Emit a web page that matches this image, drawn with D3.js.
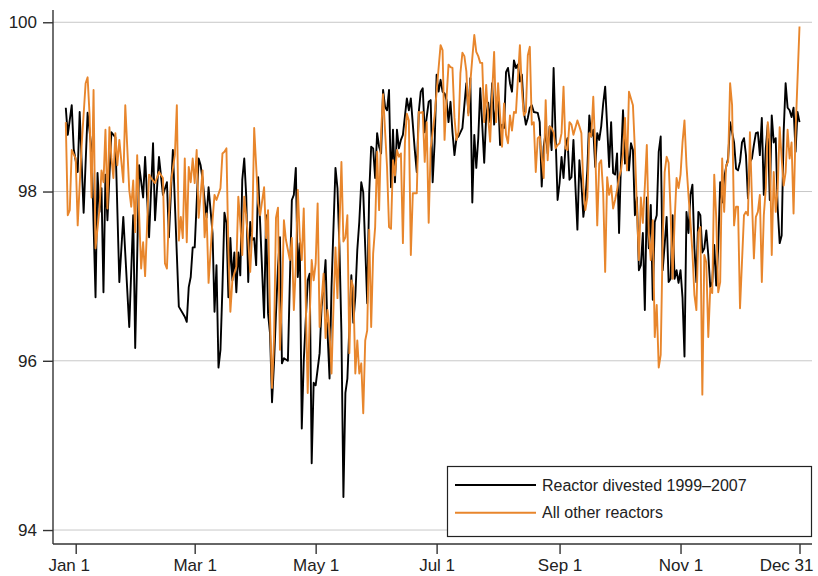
<!DOCTYPE html>
<html>
<head>
<meta charset="utf-8">
<script src="https://cdn.jsdelivr.net/npm/d3@7"></script>
<style>
  html, body { margin: 0; padding: 0; background: #fff; }
  svg { display: block; }
  text { font-family: "Liberation Sans", Arial, Helvetica, sans-serif; fill: #222; }
</style>
</head>
<body>
<svg id="chart" width="818" height="576"></svg>
<script>
// Day of year (0 = Jan 1, leap year) and daily percentage, one pair per observation.
const divested = [[-5,98.99],[-4,98.67],[-2,99.02],[-1,98.50],[1,98.23],[2,98.94],[4,97.75],[6,98.93],[8,98.50],[10,96.75],[11,98.22],[12,97.76],[13,98.04],[14,96.81],[15,98.20],[16,97.66],[18,98.70],[20,98.64],[22,96.93],[24,97.70],[27,96.40],[29,97.72],[30,96.15],[32,98.31],[34,97.93],[35,98.41],[37,97.46],[39,98.57],[40,97.66],[42,98.41],[44,97.96],[46,98.11],[47,97.46],[49,98.49],[52,96.64],[55,96.52],[56,96.46],[57,96.87],[58,96.99],[59,97.34],[60,97.34],[62,98.39],[63,98.31],[64,98.14],[65,97.90],[66,97.69],[67,98.05],[69,97.51],[70,96.58],[71,97.13],[72,95.92],[73,96.13],[74,96.87],[75,97.75],[76,97.63],[77,96.75],[78,97.45],[79,96.95],[80,97.28],[81,96.81],[82,97.28],[83,97.01],[84,98.14],[85,98.39],[86,97.94],[87,96.93],[88,97.64],[89,97.43],[90,97.45],[91,97.13],[92,98.17],[93,97.63],[95,96.51],[96,97.72],[97,96.56],[98,96.32],[99,95.51],[100,95.97],[101,96.56],[102,97.11],[103,97.46],[104,95.97],[105,96.03],[107,96.00],[108,96.95],[109,97.90],[110,97.96],[111,98.28],[112,96.99],[113,97.39],[114,95.20],[115,96.00],[117,96.95],[118,97.03],[119,94.79],[120,95.74],[121,95.71],[123,96.09],[124,96.64],[125,96.87],[126,97.19],[127,96.33],[128,95.79],[129,96.87],[130,97.58],[131,98.28],[132,98.04],[133,97.34],[134,96.33],[135,94.39],[136,95.62],[137,95.79],[139,97.01],[140,96.45],[141,96.76],[142,97.31],[143,97.64],[144,98.11],[145,97.99],[146,97.34],[147,96.68],[148,97.98],[149,98.53],[150,98.51],[151,98.16],[152,98.69],[153,98.53],[154,98.45],[155,99.20],[156,99.00],[157,98.96],[158,99.20],[159,98.05],[160,98.73],[161,98.11],[162,98.73],[163,98.51],[164,98.61],[165,98.67],[167,99.10],[168,98.96],[169,99.10],[171,98.49],[172,98.23],[173,98.94],[174,99.18],[175,99.22],[176,98.70],[178,99.06],[179,99.08],[180,98.11],[181,98.58],[182,99.38],[183,99.18],[184,99.32],[185,99.18],[186,99.16],[187,99.08],[188,98.82],[189,99.06],[190,98.70],[191,98.43],[192,98.63],[193,98.65],[194,98.70],[195,98.75],[196,99.02],[197,99.28],[198,98.93],[199,99.34],[200,97.87],[201,98.67],[202,98.28],[203,98.63],[204,99.22],[205,98.79],[206,98.34],[207,98.90],[208,99.05],[209,98.82],[210,99.28],[211,98.79],[212,98.99],[213,99.14],[214,98.55],[215,98.79],[216,98.75],[217,99.41],[218,99.46],[219,99.28],[220,99.18],[221,99.55],[222,99.46],[223,99.50],[224,99.30],[225,99.38],[226,98.94],[227,98.79],[228,98.87],[229,98.99],[230,99.02],[231,98.94],[233,98.93],[234,98.82],[235,98.06],[236,98.53],[237,98.70],[238,98.45],[239,98.77],[240,98.49],[241,99.46],[242,98.65],[243,97.90],[244,98.10],[245,98.41],[246,98.16],[247,98.53],[248,98.63],[249,98.14],[250,98.17],[251,98.61],[252,98.06],[253,97.55],[254,98.37],[255,98.10],[256,97.70],[257,97.90],[258,98.25],[259,98.90],[260,98.65],[261,98.73],[262,98.29],[263,98.69],[264,98.61],[265,98.77],[266,99.04],[267,99.24],[268,98.77],[269,98.29],[270,98.82],[271,98.22],[272,98.20],[273,98.45],[274,97.51],[275,98.37],[276,98.96],[277,98.33],[278,98.55],[279,98.25],[280,98.57],[281,98.49],[282,97.72],[283,97.93],[284,97.07],[285,97.13],[286,97.51],[287,96.60],[288,97.93],[289,97.33],[290,97.84],[291,96.72],[292,97.64],[293,97.72],[294,98.47],[295,98.65],[296,97.07],[297,97.37],[298,97.70],[299,96.93],[300,96.97],[301,97.72],[302,96.97],[303,97.07],[304,96.92],[305,97.07],[306,96.75],[307,96.05],[308,97.76],[309,97.51],[310,97.96],[311,98.08],[312,97.33],[313,96.93],[314,97.76],[315,97.72],[316,97.28],[317,97.33],[318,97.54],[319,97.25],[320,96.87],[321,96.93],[322,97.37],[323,96.89],[324,97.33],[325,98.11],[326,97.87],[327,98.16],[328,98.29],[329,98.39],[330,98.82],[331,98.70],[332,98.58],[333,98.27],[334,98.25],[335,98.35],[336,98.58],[337,98.63],[338,98.43],[339,97.92],[340,98.35],[341,98.39],[342,98.55],[343,98.69],[344,98.70],[345,98.43],[346,98.87],[347,97.96],[348,98.51],[349,98.79],[350,97.90],[351,98.90],[352,98.58],[353,98.63],[354,97.80],[355,97.39],[356,97.48],[357,98.70],[358,99.28],[359,98.99],[360,98.96],[361,98.88],[362,98.99],[363,98.47],[364,98.94],[365,98.82]];

const others = [[-5,98.82],[-4,97.72],[-3,97.78],[-2,98.49],[0,98.39],[1,97.60],[3,98.55],[5,99.28],[6,99.35],[7,98.90],[8,97.93],[9,99.20],[10,97.33],[12,97.80],[13,98.25],[14,98.11],[15,98.73],[16,97.80],[17,98.76],[18,98.40],[19,98.16],[20,98.69],[21,98.31],[22,98.61],[24,98.11],[25,99.02],[27,98.02],[28,97.82],[29,98.13],[30,97.52],[31,98.43],[32,97.72],[33,97.09],[34,97.40],[35,97.00],[37,98.20],[38,98.16],[40,98.10],[42,98.23],[44,98.16],[45,97.15],[46,97.09],[47,97.72],[48,98.11],[50,98.43],[51,99.02],[52,97.42],[53,97.70],[54,97.45],[55,98.39],[56,97.40],[57,98.29],[58,98.11],[59,98.39],[60,98.10],[61,98.49],[62,97.69],[64,98.25],[65,97.46],[66,97.74],[67,96.92],[69,97.66],[70,97.96],[71,97.90],[73,98.04],[74,98.45],[75,98.47],[76,98.51],[77,97.31],[78,96.58],[79,96.95],[81,97.11],[82,97.94],[83,97.63],[84,97.25],[85,97.94],[86,97.70],[87,97.43],[88,97.05],[89,97.52],[90,98.75],[92,97.86],[93,97.72],[95,98.05],[96,97.45],[97,97.78],[98,96.52],[99,95.68],[100,96.24],[101,97.69],[102,97.81],[103,96.13],[104,96.72],[105,97.66],[106,97.43],[108,97.19],[109,97.45],[110,96.60],[111,97.11],[112,98.02],[113,97.46],[114,97.19],[115,97.80],[116,96.72],[117,95.62],[118,96.52],[119,97.19],[120,96.95],[121,97.15],[122,97.86],[123,96.40],[124,96.72],[125,97.03],[126,96.27],[127,96.60],[128,96.36],[129,95.85],[130,96.64],[131,97.34],[132,96.74],[133,97.58],[134,98.35],[135,97.41],[136,97.46],[137,97.72],[138,96.09],[139,96.95],[140,96.87],[141,95.85],[142,96.24],[143,95.85],[144,95.97],[145,95.38],[146,96.24],[147,96.36],[148,97.55],[149,96.40],[150,97.27],[151,97.58],[152,98.47],[153,97.78],[154,98.69],[155,99.15],[157,98.29],[158,97.58],[159,97.56],[160,98.37],[161,98.19],[162,98.49],[163,98.41],[164,98.45],[165,97.39],[166,98.57],[167,98.92],[168,98.84],[169,97.25],[170,97.98],[172,97.98],[173,98.94],[174,98.93],[175,98.94],[176,98.35],[177,98.82],[178,97.63],[179,98.51],[180,98.70],[181,98.90],[183,99.46],[184,99.73],[185,99.67],[186,98.61],[187,99.10],[188,99.50],[189,99.47],[190,99.46],[191,98.87],[192,98.61],[193,98.70],[194,99.40],[195,99.64],[196,99.60],[197,99.42],[198,98.90],[199,99.29],[200,99.58],[201,99.85],[202,99.65],[203,99.60],[204,99.52],[205,99.52],[206,98.82],[207,99.26],[208,98.87],[209,98.59],[210,99.16],[211,99.65],[212,98.82],[213,99.28],[214,98.90],[215,98.53],[216,99.04],[217,98.67],[218,98.57],[219,98.90],[220,98.72],[221,98.94],[222,98.93],[223,99.34],[224,99.73],[225,99.20],[226,98.90],[227,98.94],[228,99.61],[229,99.71],[230,98.79],[231,98.82],[232,98.23],[233,98.63],[234,98.65],[235,98.41],[236,98.16],[237,99.08],[238,98.37],[239,98.77],[240,98.75],[241,98.70],[242,98.51],[243,98.55],[244,98.57],[245,98.69],[246,99.24],[247,98.51],[248,98.49],[249,98.82],[250,98.79],[251,98.67],[253,98.84],[254,98.77],[255,98.69],[256,98.06],[257,97.78],[258,97.93],[259,98.69],[260,98.65],[261,99.12],[262,98.49],[263,97.60],[264,98.33],[265,98.37],[266,97.98],[267,97.05],[268,98.17],[269,97.96],[270,98.07],[271,97.80],[272,97.90],[273,98.02],[274,98.17],[275,98.25],[276,98.45],[277,98.87],[278,98.25],[279,99.18],[280,99.10],[281,99.02],[282,98.49],[283,97.82],[284,97.19],[285,97.93],[286,97.63],[287,98.06],[288,98.55],[289,97.51],[290,97.19],[291,97.66],[292,96.28],[293,96.66],[294,95.92],[295,96.07],[296,97.40],[297,98.23],[298,98.41],[299,98.34],[300,97.76],[301,96.97],[302,97.64],[303,98.16],[304,98.04],[305,98.20],[306,98.58],[307,98.84],[308,98.31],[309,97.96],[310,97.64],[311,97.28],[312,96.78],[313,96.60],[314,97.52],[315,97.58],[316,95.60],[317,97.25],[318,97.16],[319,96.28],[320,96.86],[321,96.80],[322,98.20],[323,97.69],[324,96.81],[325,96.93],[326,98.39],[327,97.76],[328,98.31],[329,98.35],[330,99.28],[331,99.02],[332,97.60],[333,97.82],[334,97.82],[335,96.62],[336,97.17],[337,97.72],[338,97.76],[339,97.72],[340,98.70],[341,97.92],[342,97.21],[343,97.70],[344,97.76],[345,97.96],[346,96.93],[347,97.72],[348,98.04],[349,98.82],[350,98.58],[351,97.25],[352,98.23],[353,97.76],[354,98.04],[355,98.76],[356,98.39],[357,98.07],[358,98.23],[359,98.73],[360,98.39],[361,98.58],[362,97.74],[363,98.70],[365,99.95]];

const xTickDays   = [0, 60, 121, 182, 244, 305, 365];
const xTickLabels = ["Jan 1", "Mar 1", "May 1", "Jul 1", "Sep 1", "Nov 1", "Dec 31"];
const yTicks      = [94, 96, 98, 100];

const seriesNames  = ["Reactor divested 1999\u20132007", "All other reactors"];
const seriesColors = ["#000000", "#e8862c"];

// Plot frame
const frame = { left: 53, right: 812, top: 10, bottom: 544 };

const x = d3.scaleLinear().domain([-11.45, 371.3]).range([frame.left, frame.right]);
const y = d3.scaleLinear().domain([93.835, 100.145]).range([frame.bottom, frame.top]);

const svg = d3.select("#chart");

// Horizontal gridlines
svg.append("g")
  .selectAll("line")
  .data(yTicks)
  .join("line")
    .attr("x1", frame.left).attr("x2", frame.right)
    .attr("y1", d => y(d)).attr("y2", d => y(d))
    .attr("stroke", "#c8c8c8").attr("stroke-width", 1);

// Series lines
const line = d3.line().x(d => x(d[0])).y(d => y(d[1]));
[divested, others].forEach((data, i) => {
  svg.append("path")
    .datum(data)
    .attr("fill", "none")
    .attr("stroke", seriesColors[i])
    .attr("stroke-width", 1.9)
    .attr("stroke-linejoin", "round")
    .attr("d", line);
});

// Y axis
const yAxis = d3.axisLeft(y).tickValues(yTicks).tickSize(10).tickPadding(6).tickFormat(d3.format("d"));
const gy = svg.append("g").attr("transform", `translate(${frame.left},0)`).call(yAxis);
gy.select(".domain").attr("d", `M0,${frame.top}V${frame.bottom}`);

// X axis
const xAxis = d3.axisBottom(x).tickValues(xTickDays).tickSize(10).tickPadding(5)
  .tickFormat((d, i) => xTickLabels[i]);
const gx = svg.append("g").attr("transform", `translate(0,${frame.bottom})`).call(xAxis);
gx.select(".domain").attr("d", `M${frame.left},0H${frame.right}`);

[gx, gy].forEach(g => {
  g.select(".domain").attr("stroke", "#333").attr("stroke-width", 1.4);
  g.selectAll(".tick line").attr("stroke", "#333").attr("stroke-width", 1.4);
  g.selectAll(".tick text")
    .attr("font-family", "'Liberation Sans', Arial, Helvetica, sans-serif")
    .attr("font-size", 17).attr("fill", "#222");
});

// Keep the end labels inside the frame: nudge the first one left, anchor the last one at its right end
const xLabels = gx.selectAll(".tick text");
xLabels.filter((d, i) => i === 0).attr("dx", -7);
xLabels.filter((d, i, n) => i === n.length - 1)
  .attr("text-anchor", "end")
  .attr("x", frame.right + 1 - x(xTickDays[xTickDays.length - 1]));

// Legend
const lg = svg.append("g");
lg.append("rect")
  .attr("x", 447.5).attr("y", 466.5).attr("width", 364).attr("height", 70)
  .attr("fill", "#fff").attr("stroke", "#222").attr("stroke-width", 1.2);
seriesNames.forEach((name, i) => {
  const ly = 485 + i * 27.7;
  lg.append("line")
    .attr("x1", 455).attr("x2", 536).attr("y1", ly).attr("y2", ly)
    .attr("stroke", seriesColors[i]).attr("stroke-width", 1.9);
  lg.append("text")
    .attr("x", 542).attr("y", ly).attr("dy", "0.35em")
    .attr("font-size", 16).text(name);
});
</script>
</body>
</html>
